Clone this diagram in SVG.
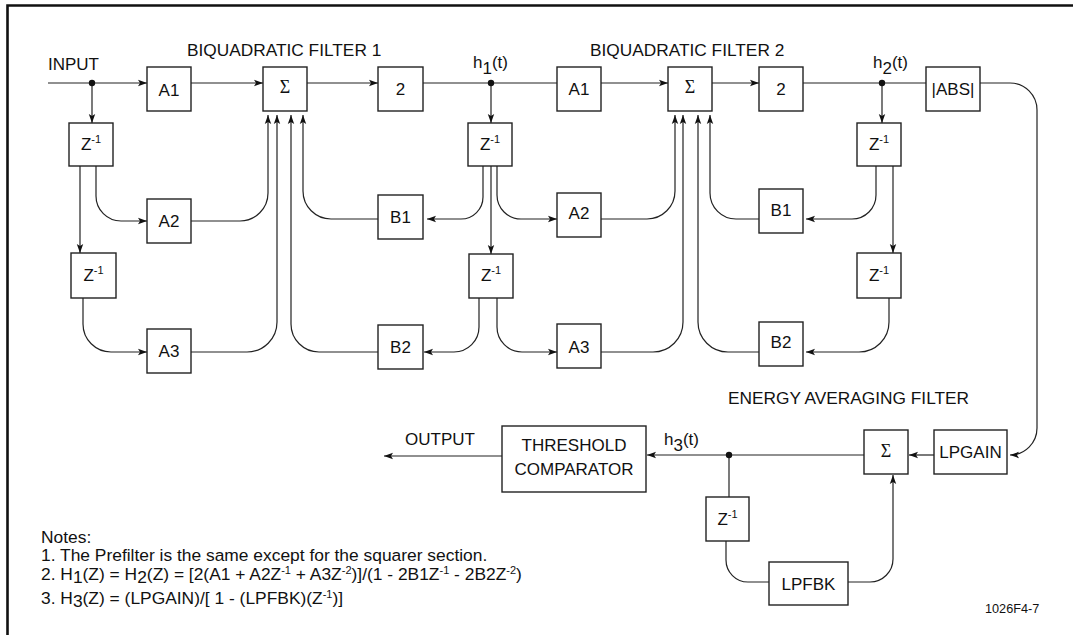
<svg xmlns="http://www.w3.org/2000/svg" width="1073" height="635" viewBox="0 0 1073 635">
<style>
.bx{fill:#fff;stroke:#222;stroke-width:1.4}
.ln{fill:none;stroke:#222;stroke-width:1.2}
.ar{marker-end:url(#ah)}
.t{font-family:"Liberation Sans",Arial,sans-serif;font-size:17px;fill:#111}
.c{text-anchor:middle}
.sg{font-family:"Liberation Serif","Times New Roman",serif;font-size:18px}
.h{font-size:17.3px}
.n{font-size:17.4px}
.dot{fill:#111}
</style>
<defs>
<marker id="ah" markerWidth="10" markerHeight="8" refX="9" refY="4" orient="auto" markerUnits="userSpaceOnUse">
<path d="M0,0.8 L9,4 L0,7.2 L2,4 z" fill="#111"/>
</marker>
</defs>
<rect x="0" y="0" width="1073" height="635" fill="#fff"/>
<path d="M7.5,700 V5.5 H1100" fill="none" stroke="#111" stroke-width="2.6"/>

<g id="labels">
<text class="t" x="48" y="70">INPUT</text>
<text class="t h" x="187" y="56">BIQUADRATIC FILTER 1</text>
<text class="t h" x="590" y="56">BIQUADRATIC FILTER 2</text>
<text class="t" x="473" y="68">h<tspan dy="6">1</tspan><tspan dy="-6">(t)</tspan></text>
<text class="t" x="873" y="68">h<tspan dy="6">2</tspan><tspan dy="-6">(t)</tspan></text>
<text class="t" x="664" y="445">h<tspan dy="6">3</tspan><tspan dy="-6">(t)</tspan></text>
<text class="t" x="405" y="445">OUTPUT</text>
<text class="t h" x="728" y="404">ENERGY AVERAGING FILTER</text>
<text class="t" x="985" y="613" style="font-size:12.7px">1026F4-7</text>
<text class="t n" x="41" y="543">Notes:</text>
<text class="t n" x="41" y="561">1. The Prefilter is the same except for the squarer section.</text>
<text class="t n" x="41" y="580">2. H<tspan dy="3">1</tspan><tspan dy="-3">(Z) = H</tspan><tspan dy="3">2</tspan><tspan dy="-3">(Z) = [2(A1 + A2Z</tspan><tspan font-size="11" dy="-6">-1</tspan><tspan dy="6"> + A3Z</tspan><tspan font-size="11" dy="-6">-2</tspan><tspan dy="6">)]/(1 - 2B1Z</tspan><tspan font-size="11" dy="-6">-1</tspan><tspan dy="6"> - 2B2Z</tspan><tspan font-size="11" dy="-6">-2</tspan><tspan dy="6">)</tspan></text>
<text class="t n" x="41" y="604">3. H<tspan dy="3">3</tspan><tspan dy="-3">(Z) = (LPGAIN)/[ 1 - (LPFBK)(Z</tspan><tspan font-size="11" dy="-6">-1</tspan><tspan dy="6">)]</tspan></text>
</g>

<g id="connectors">
<path class="ln ar" d="M48,83 H147"/>
<path class="ln ar" d="M191,83 H263"/>
<path class="ln ar" d="M307,83 H378"/>
<path class="ln" d="M423,83 H557"/>
<path class="ln ar" d="M601,83 H668"/>
<path class="ln ar" d="M712,83 H759"/>
<path class="ln" d="M803,83 H926"/>
<path class="ln ar" d="M980,83 H1010 A27,27 0 0 1 1037,110 V428 A27,27 0 0 1 1010,455"/>
<path class="ln ar" d="M92,83 V123"/>
<path class="ln ar" d="M80,166 V253"/>
<path class="ln ar" d="M96,166 V196 A25,25 0 0 0 121,221 H147"/>
<path class="ln ar" d="M83,298 V324 A28,28 0 0 0 111,352 H147"/>
<path class="ln ar" d="M191,221 H240 A28,28 0 0 0 268,193 V115"/>
<path class="ln ar" d="M191,352 H247 A30,30 0 0 0 277,322 V115"/>
<path class="ln ar" d="M378,352 H319 A28,28 0 0 1 291,324 V115"/>
<path class="ln ar" d="M378,219 H331 A28,28 0 0 1 303,191 V115"/>
<path class="ln ar" d="M491,83 V123"/>
<path class="ln ar" d="M483,166 V197 A22,22 0 0 1 461,219 H427"/>
<path class="ln ar" d="M491,166 V254"/>
<path class="ln ar" d="M497,166 V195 A24,24 0 0 0 521,219 H557"/>
<path class="ln ar" d="M479,298 V327 A25,25 0 0 1 454,352 H424"/>
<path class="ln ar" d="M497,298 V327 A25,25 0 0 0 522,352 H557"/>
<path class="ln ar" d="M601,219 H647 A28,28 0 0 0 675,191 V115"/>
<path class="ln ar" d="M601,352 H653 A30,30 0 0 0 683,322 V115"/>
<path class="ln ar" d="M759,352 H728 A30,30 0 0 1 698,322 V115"/>
<path class="ln ar" d="M759,219 H736 A26,26 0 0 1 710,193 V115"/>
<path class="ln ar" d="M882,83 V123"/>
<path class="ln ar" d="M876,166 V195 A24,24 0 0 1 852,219 H806"/>
<path class="ln ar" d="M893,166 V253"/>
<path class="ln ar" d="M889,298 V322 A30,30 0 0 1 859,352 H806"/>
<path class="ln ar" d="M934,455 H909"/>
<path class="ln ar" d="M864,455 H647"/>
<path class="ln ar" d="M502,456 H384"/>
<path class="ln" d="M729,455 V497"/>
<path class="ln" d="M726,541 V560 A22,22 0 0 0 748,582 H769"/>
<path class="ln ar" d="M848,582 H870 A23,23 0 0 0 893,559 V475"/>
<circle class="dot" cx="92" cy="83" r="3.2"/>
<circle class="dot" cx="491" cy="83" r="3.2"/>
<circle class="dot" cx="882" cy="83" r="3.2"/>
<circle class="dot" cx="729" cy="455" r="3.2"/>
</g>

<g id="A1a"><rect class="bx" x="147" y="67" width="44" height="44"/><text class="t c" x="169" y="96">A1</text></g>
<g id="SUMa"><rect class="bx" x="263" y="67" width="44" height="44"/><text class="t c sg" x="285" y="93">Σ</text></g>
<g id="TWOa"><rect class="bx" x="378" y="67" width="45" height="44"/><text class="t c" x="400.5" y="95">2</text></g>
<g id="A1b"><rect class="bx" x="557" y="67" width="44" height="44"/><text class="t c" x="579" y="95">A1</text></g>
<g id="SUMb"><rect class="bx" x="668" y="67" width="44" height="44"/><text class="t c sg" x="690" y="93">Σ</text></g>
<g id="TWOb"><rect class="bx" x="759" y="67" width="44" height="44"/><text class="t c" x="781" y="95">2</text></g>
<g id="ABS"><rect class="bx" x="926" y="67" width="54" height="44"/><text class="t c" x="953" y="95">|ABS|</text></g>

<g id="Za1"><rect class="bx" x="69" y="123" width="44" height="43"/><text class="t c" x="91" y="150">Z<tspan font-size="11" dy="-7">-1</tspan></text></g>
<g id="Za2"><rect class="bx" x="71" y="253" width="45" height="45"/><text class="t c" x="93.5" y="281">Z<tspan font-size="11" dy="-7">-1</tspan></text></g>
<g id="A2a"><rect class="bx" x="147" y="199" width="44" height="44"/><text class="t c" x="169" y="227">A2</text></g>
<g id="A3a"><rect class="bx" x="147" y="329" width="44" height="44"/><text class="t c" x="169" y="357">A3</text></g>
<g id="B1a"><rect class="bx" x="378" y="195" width="45" height="44"/><text class="t c" x="400.5" y="223">B1</text></g>
<g id="B2a"><rect class="bx" x="378" y="325" width="45" height="44"/><text class="t c" x="400.5" y="353">B2</text></g>

<g id="Zb1"><rect class="bx" x="468" y="123" width="44" height="43"/><text class="t c" x="490" y="150">Z<tspan font-size="11" dy="-7">-1</tspan></text></g>
<g id="Zb2"><rect class="bx" x="469" y="254" width="44" height="44"/><text class="t c" x="491" y="281">Z<tspan font-size="11" dy="-7">-1</tspan></text></g>
<g id="A2b"><rect class="bx" x="557" y="193" width="44" height="44"/><text class="t c" x="579" y="219">A2</text></g>
<g id="A3b"><rect class="bx" x="557" y="324" width="44" height="44"/><text class="t c" x="579" y="353">A3</text></g>
<g id="B1b"><rect class="bx" x="759" y="189" width="44" height="44"/><text class="t c" x="781" y="216">B1</text></g>
<g id="B2b"><rect class="bx" x="759" y="322" width="44" height="44"/><text class="t c" x="781" y="348">B2</text></g>

<g id="Zc1"><rect class="bx" x="857" y="123" width="44" height="43"/><text class="t c" x="879" y="150">Z<tspan font-size="11" dy="-7">-1</tspan></text></g>
<g id="Zc2"><rect class="bx" x="857" y="253" width="44" height="45"/><text class="t c" x="879" y="281">Z<tspan font-size="11" dy="-7">-1</tspan></text></g>

<g id="LPGAIN"><rect class="bx" x="934" y="430" width="73" height="44"/><text class="t c" x="970.5" y="458">LPGAIN</text></g>
<g id="SUMc"><rect class="bx" x="864" y="430" width="44" height="44"/><text class="t c sg" x="886" y="457">Σ</text></g>
<g id="THRESH"><rect class="bx" x="502" y="426" width="144" height="66"/><text class="t c" x="574" y="451">THRESHOLD</text><text class="t c" x="574" y="475">COMPARATOR</text></g>
<g id="Zd"><rect class="bx" x="706" y="497" width="43" height="44"/><text class="t c" x="727.5" y="525">Z<tspan font-size="11" dy="-7">-1</tspan></text></g>
<g id="LPFBK"><rect class="bx" x="769" y="562" width="79" height="43"/><text class="t c" x="808.5" y="590">LPFBK</text></g>
</svg>
